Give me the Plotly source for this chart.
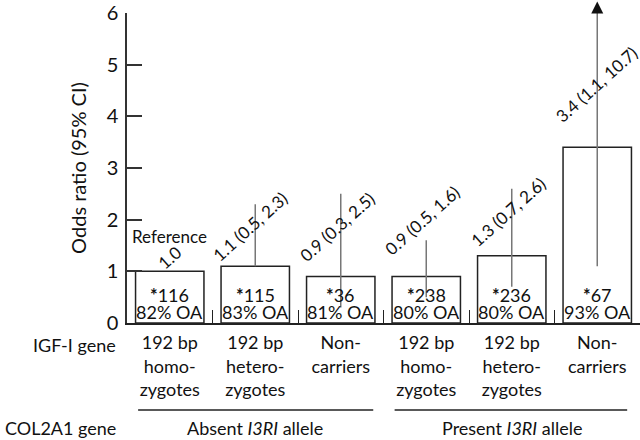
import plotly.graph_objects as go

# ---- data ----
categories = [
    "192 bp<br>homo-<br>zygotes",
    "192 bp<br>hetero-<br>zygotes",
    "Non-<br>carriers",
    "192 bp<br>homo-<br>zygotes",
    "192 bp<br>hetero-<br>zygotes",
    "Non-<br>carriers",
]
odds_ratio = [1.0, 1.1, 0.9, 0.9, 1.3, 3.4]
ci_lower = [None, 0.5, 0.3, 0.5, 0.7, 1.1]
ci_upper = [None, 2.3, 2.5, 1.6, 2.6, 10.7]
n_subjects = [116, 115, 36, 238, 236, 67]
pct_oa = [82, 83, 81, 80, 80, 93]
groups = ["Absent <i>I3RI</i> allele", "Present <i>I3RI</i> allele"]
y_ticks = [0, 1, 2, 3, 4, 5, 6]

FONT = "Lato"
TXT = "#111"
idx = list(range(len(categories)))
ymax = 6

fig = go.Figure()
fig.add_trace(go.Bar(
    x=idx, y=odds_ratio, width=0.8,
    marker=dict(color="white", line=dict(color="#222", width=1.5)),
    hoverinfo="skip", showlegend=False,
))

# CI lines (bar 2 lower part hidden inside the bar in the original)
ci_hidden_inside = [False, True, False, False, False, False]
for i in idx:
    lo, hi = ci_lower[i], ci_upper[i]
    if lo is None:
        continue
    start = odds_ratio[i] if ci_hidden_inside[i] else lo
    fig.add_trace(go.Scatter(x=[i, i], y=[start, min(hi, ymax)], mode="lines",
                             line=dict(color="#777", width=1.5),
                             hoverinfo="skip", showlegend=False))
    if hi > ymax:  # upper limit off the scale: arrowhead just above the plot top
        fig.add_annotation(x=i, y=1.037, xref="x", yref="paper", ax=0, ay=12,
                           text="", font=dict(size=1), borderpad=0,
                           showarrow=True, arrowhead=2, arrowsize=1.6,
                           arrowwidth=1.5, arrowcolor="#111")

# rotated value labels
label_y = [1.26, 1.86, 1.86, 1.98, 2.15, 4.62]
label_dx = [0, -5, -3, -4, -3, -1]
for i in idx:
    if ci_lower[i] is None:
        txt = f"{odds_ratio[i]:.1f}"
    else:
        txt = f"{odds_ratio[i]:.1f} ({ci_lower[i]:.1f}, {ci_upper[i]:.1f})"
    fig.add_annotation(x=i, y=label_y[i], xshift=label_dx[i], text=txt, textangle=-42,
                       xanchor="center", yanchor="middle",
                       showarrow=False, font=dict(family=FONT, size=17, color=TXT))
fig.add_annotation(x=0, y=1.68, text="Reference", showarrow=False,
                   xanchor="center", yanchor="middle",
                   font=dict(family=FONT, size=17, color=TXT))

# inside-bar texts
for i in idx:
    fig.add_annotation(x=i, y=0, yshift=15, yanchor="bottom",
                       text=f"<b>*</b>{n_subjects[i]}",
                       showarrow=False, font=dict(family=FONT, size=18, color=TXT))
    fig.add_annotation(x=i, y=0, yshift=-2, yanchor="bottom", text=f"{pct_oa[i]}% OA",
                       showarrow=False, font=dict(family=FONT, size=18, color=TXT))

# row labels
fig.add_annotation(x=0, y=-0.071, xref="paper", yref="paper", xanchor="right",
                   yanchor="middle", xshift=-9, text="IGF-I gene", showarrow=False,
                   font=dict(family=FONT, size=18, color=TXT))
fig.add_annotation(x=0, y=-0.339, xref="paper", yref="paper", xanchor="right",
                   yanchor="middle", xshift=-9, text="COL2A1 gene", showarrow=False,
                   font=dict(family=FONT, size=18, color=TXT))

# group lines and labels
for g, (x0, x1, xc) in enumerate([(-0.37, 2.38, 1), (2.63, 5.35, 4)]):
    fig.add_shape(type="line", xref="x", yref="paper", x0=x0, x1=x1, y0=-0.281, y1=-0.281,
                  line=dict(color="#222", width=1.5))
    fig.add_annotation(x=xc, y=-0.339, xref="x", yref="paper", text=groups[g],
                       xanchor="center", yanchor="middle",
                       showarrow=False, font=dict(family=FONT, size=18, color=TXT))

fig.update_layout(
    width=640, height=440,
    margin=dict(l=127, r=0, t=13, b=117),
    plot_bgcolor="white", paper_bgcolor="white",
    template="none",
    font=dict(family=FONT, color=TXT),
)
fig.update_xaxes(
    range=[-0.5, 5.5], tickvals=idx, ticktext=categories, ticks="",
    showline=True, linecolor="#222", linewidth=1.5, showgrid=False, zeroline=False,
    tickfont=dict(family=FONT, size=18, color=TXT), automargin=False,
    ticklabelstandoff=3,
    minor=dict(tickvals=[0.5, 1.5, 2.5, 3.5, 4.5, 5.5], ticks="inside", ticklen=13,
               tickcolor="#222", tickwidth=1),
)
fig.update_yaxes(
    range=[0, ymax], tickvals=y_ticks, ticks="inside", ticklen=15, tickwidth=1.5,
    tickcolor="#333", showline=True, linecolor="#333", linewidth=1.5,
    showgrid=False, zeroline=False, automargin=False, ticklabelstandoff=3,
    tickfont=dict(family=FONT, size=20, color=TXT),
    title=dict(text="Odds ratio (95% CI)", font=dict(family=FONT, size=20, color=TXT),
               standoff=15),
)

# remove the default 8px page margin so the 640x440 figure fills the window
fig.write_html("out.html", config={"displayModeBar": False},
               post_script="document.body.style.margin='0';")
